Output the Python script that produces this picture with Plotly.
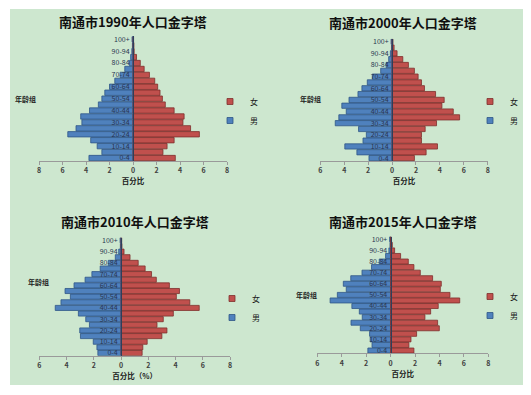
import plotly.graph_objects as go

# the page adds an 8px body margin, so the figure is sized to the rest of the window
OX, OY = 8, 8
W, H = 531 - OX, 395 - OY

age_groups = ['0-4', '5-9', '10-14', '15-19', '20-24', '25-29', '30-34', '35-39',
              '40-44', '45-49', '50-54', '55-59', '60-64', '65-69', '70-74',
              '75-79', '80-84', '85-89', '90-94', '95-99', '100+']
tick_groups = ['0-4', '10-14', '20-24', '30-34', '40-44', '50-54', '60-64',
               '70-74', '80-84', '90-94', '100+']

titles = ['南通市1990年人口金字塔', '南通市2000年人口金字塔',
          '南通市2010年人口金字塔', '南通市2015年人口金字塔']
x_titles = ['百分比', '百分比', '百分比（%）', '百分比']

# percentages, ordered 0-4 ... 100+
male_1990 = [3.75, 2.65, 3.05, 3.6, 5.55, 4.85, 4.35, 4.45, 3.7, 2.95, 2.65,
             2.4, 2.0, 1.55, 1.1, 0.7, 0.3, 0.2, 0.1, 0.05, 0.08]
female_1990 = [3.6, 2.55, 2.9, 3.5, 5.65, 4.9, 4.25, 4.35, 3.5, 2.75, 2.5,
               2.3, 2.1, 1.85, 1.4, 0.95, 0.62, 0.3, 0.1, 0.08, 0.05]
male_2000 = [1.93, 2.94, 3.95, 2.43, 2.15, 2.8, 4.75, 4.45, 3.83, 4.2, 3.6,
             2.85, 2.52, 2.07, 1.65, 0.95, 0.5, 0.28, 0.14, 0.05, 0.08]
female_2000 = [1.87, 2.85, 3.8, 2.46, 2.46, 2.77, 3.72, 5.65, 5.12, 4.17, 4.36,
               3.64, 2.71, 2.46, 2.18, 1.87, 1.37, 0.9, 0.42, 0.17, 0.08]
male_2010 = [1.7, 1.77, 2.04, 2.98, 3.03, 2.32, 2.59, 3.13, 4.83, 4.41, 3.72,
             4.11, 3.45, 2.64, 2.14, 1.53, 0.94, 0.42, 0.17, 0.05, 0.07]
female_2010 = [1.55, 1.6, 1.92, 3.0, 3.37, 2.64, 3.1, 3.84, 5.74, 5.05, 4.06,
               4.29, 3.55, 2.59, 2.24, 1.77, 1.26, 0.66, 0.22, 0.07, 0.05]
male_2015 = [1.86, 1.52, 1.67, 1.72, 2.48, 3.24, 2.32, 2.56, 3.17, 4.95, 4.36,
             3.63, 3.87, 3.26, 2.34, 1.56, 0.93, 0.41, 0.14, 0.05, 0.08]
female_2015 = [1.91, 1.5, 1.67, 2.13, 3.99, 3.85, 2.81, 3.28, 3.9, 5.66, 4.86,
               4.07, 4.15, 3.44, 2.43, 1.91, 1.45, 0.82, 0.33, 0.14, 0.05]

males = [male_1990, male_2000, male_2010, male_2015]
females = [female_1990, female_2000, female_2010, female_2015]
x_ranges = [(-8, 8), (-6, 8), (-6, 8), (-6, 8)]

# layout in window pixels: (x_left, x_right, y_top, y_bottom)
boxes = [(39.0, 227.0, 36.3, 161.0),
         (320.3, 487.7, 38.8, 161.0),
         (39.3, 230.0, 237.5, 355.8),
         (317.3, 488.3, 236.5, 353.3)]
title_pos = [(133, 21), (403, 22.5), (135, 221), (403, 221)]
ylabel_pos = [(25, 99), (310, 99), (38, 282), (306, 295)]
# where the legend marker should sit (px)
legend_pos = [(236, 111), (496, 111), (238, 308), (496, 306)]

MALE_FILL, MALE_LINE = '#4f81bd', '#2f5686'
FEMALE_FILL, FEMALE_LINE = '#c0504d', '#7e2f2c'
BG = '#cde7cf'
FONT = 'Noto Sans CJK SC'


def px(x):
    return (x - OX) / W


def py(y):
    return 1 - (y - OY) / H


fig = go.Figure()
layout = dict(width=W, height=H, margin=dict(l=0, r=0, t=0, b=0, autoexpand=False),
              paper_bgcolor='white', plot_bgcolor='rgba(0,0,0,0)',
              barmode='overlay', bargap=0.1, font=dict(family=FONT),
              annotations=[], shapes=[])

layout['shapes'].append(dict(type='rect', xref='paper', yref='paper',
                             x0=px(10), x1=px(528), y0=py(385), y1=py(9),
                             fillcolor=BG, line=dict(width=0), layer='below'))

for i in range(4):
    sfx = '' if i == 0 else str(i + 1)
    xa, ya = 'x' + sfx, 'y' + sfx
    lg = 'legend' + sfx
    xl, xr, yt, yb = boxes[i]
    r0, r1 = x_ranges[i]
    dx = [px(xl), px(xr)]
    dy = [py(yb), py(yt)]
    zero_pos = dx[0] + (0 - r0) / (r1 - r0) * (dx[1] - dx[0])

    fig.add_trace(go.Bar(y=age_groups, x=[-v for v in males[i]], orientation='h',
                         marker=dict(color=MALE_FILL, line=dict(color=MALE_LINE, width=0.8)),
                         name='男', showlegend=False, xaxis=xa, yaxis=ya))
    fig.add_trace(go.Bar(y=age_groups, x=females[i], orientation='h',
                         marker=dict(color=FEMALE_FILL, line=dict(color=FEMALE_LINE, width=0.8)),
                         name='女', showlegend=False, xaxis=xa, yaxis=ya))
    # legend entries
    fig.add_trace(go.Scatter(x=[None], y=[None], mode='markers', name='女',
                             marker=dict(symbol='square', size=6, color=FEMALE_FILL,
                                         line=dict(color=FEMALE_LINE, width=0.8)),
                             legend=lg, xaxis=xa, yaxis=ya))
    fig.add_trace(go.Scatter(x=[None], y=[None], mode='markers', name='男',
                             marker=dict(symbol='square', size=6, color=MALE_FILL,
                                         line=dict(color=MALE_LINE, width=0.8)),
                             legend=lg, xaxis=xa, yaxis=ya))

    tv = list(range(r0, r1 + 1, 2))
    layout['xaxis' + sfx] = dict(domain=dx, anchor=ya, range=[r0, r1], tickvals=tv,
                                 ticktext=[str(abs(v)) for v in tv],
                                 showgrid=False, zeroline=False, showline=True,
                                 linecolor='#9a9a9a', linewidth=1, ticks='outside',
                                 ticklen=3, tickcolor='#9a9a9a',
                                 tickfont=dict(size=7, color='#404040', family=FONT, weight='bold'),
                                 title=dict(text=x_titles[i], standoff=2,
                                            font=dict(size=7.5, color='#202020', family=FONT, weight='bold')),
                                 fixedrange=True)
    layout['yaxis' + sfx] = dict(domain=dy, anchor='free', position=zero_pos,
                                 type='category', categoryorder='array',
                                 categoryarray=age_groups, range=[-0.5, 20.5],
                                 tickvals=tick_groups, ticktext=tick_groups,
                                 showgrid=False, zeroline=False, showline=True,
                                 linecolor='#2d3f5c', linewidth=1,
                                 ticks='outside', ticklen=2, tickcolor='rgba(0,0,0,0)',
                                 tickfont=dict(size=7, color='#2a3550', family=FONT),
                                 layer='above traces', fixedrange=True)
    lx, ly = legend_pos[i]
    layout[lg] = dict(x=px(lx - 26), y=py(ly), xanchor='left', yanchor='middle',
                      bgcolor='rgba(0,0,0,0)', font=dict(size=8, color='#202020', family=FONT),
                      traceorder='normal', tracegroupgap=0, itemwidth=30)

    tx, ty = title_pos[i]
    layout['annotations'].append(dict(text=titles[i], xref='paper', yref='paper',
                                      x=px(tx), y=py(ty), showarrow=False,
                                      xanchor='center', yanchor='middle',
                                      font=dict(size=13, color='#101010', family=FONT, weight='bold')))
    yx, yy = ylabel_pos[i]
    layout['annotations'].append(dict(text='年龄组', xref='paper', yref='paper',
                                      x=px(yx), y=py(yy), showarrow=False,
                                      xanchor='center', yanchor='middle',
                                      font=dict(size=7, color='#202020', family=FONT, weight='bold')))

fig.update_layout(**layout)
fig.write_html('out.html')
